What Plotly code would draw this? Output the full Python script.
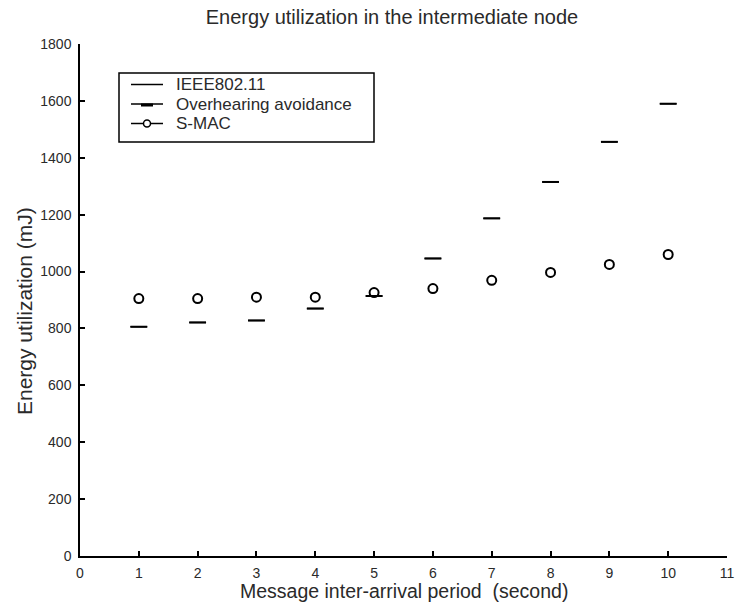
import plotly.graph_objects as go

x_vals = [1, 2, 3, 4, 5, 6, 7, 8, 9, 10]
ieee = [806, 821, 828, 870, 914, 1046, 1187, 1315, 1456, 1590]
overhearing = [806, 821, 828, 870, 914, 1046, 1187, 1315, 1456, 1590]
smac = [905, 905, 910, 910, 926, 940, 969, 997, 1025, 1060]

legend_names = ["IEEE802.11", "Overhearing avoidance", "S-MAC"]

x_ticks = list(range(0, 12))
y_ticks = list(range(0, 2000, 200))

font = "Liberation Sans, Arial, sans-serif"
txt = "#2a2a2a"

W, H = 741, 602
L, R, T, B = 80, 14, 44, 46
PW, PH = W - L - R, H - T - B


def px(x):
    # page pixel -> plot-area paper fraction
    return (x - L) / PW


def py(y):
    return 1 - (y - T) / PH


fig = go.Figure()
fig.add_trace(go.Scatter(x=x_vals, y=ieee, mode="markers", showlegend=False, name=legend_names[0],
                         marker=dict(symbol="line-ew", size=12, line=dict(color="black", width=1.5))))
fig.add_trace(go.Scatter(x=x_vals, y=overhearing, mode="markers", showlegend=False, name=legend_names[1],
                         marker=dict(symbol="line-ew", size=12, line=dict(color="black", width=2))))
fig.add_trace(go.Scatter(x=x_vals, y=smac, mode="markers", showlegend=False, name=legend_names[2],
                         marker=dict(symbol="circle-open", size=9, color="black", line=dict(color="black", width=2))))

# custom legend (box, samples, labels)
shapes = [dict(type="rect", xref="paper", yref="paper", x0=px(119), x1=px(374), y0=py(142), y1=py(73),
               line=dict(color="black", width=1.5), fillcolor="white", layer="above")]
rows = [84.5, 104, 123.5]
annotations = []
for name, ry in zip(legend_names, rows):
    shapes.append(dict(type="line", xref="paper", yref="paper", x0=px(131), x1=px(163), y0=py(ry), y1=py(ry),
                       line=dict(color="black", width=1.5), layer="above"))
    annotations.append(dict(text=name, xref="paper", yref="paper", x=px(175), y=py(ry),
                            xanchor="left", yanchor="middle", showarrow=False, borderpad=0,
                            font=dict(size=17, color=txt)))
shapes.append(dict(type="line", xref="paper", yref="paper", x0=px(141), x1=px(153),
                   y0=py(rows[1] + 1), y1=py(rows[1] + 1),
                   line=dict(color="black", width=3), layer="above"))
shapes.append(dict(type="circle", xref="paper", yref="paper", x0=px(143.5), x1=px(150.5),
                   y0=py(rows[2] + 3.5), y1=py(rows[2] - 3.5),
                   line=dict(color="black", width=1.5), fillcolor="white", layer="above"))

annotations.append(dict(text="Energy utilization (mJ)", xref="paper", yref="paper", x=px(24), y=py(311),
                        xanchor="center", yanchor="middle", textangle=-90, showarrow=False, borderpad=0,
                        font=dict(size=21, color=txt)))
annotations.append(dict(text="Message inter-arrival period  (second)", xref="paper", yref="paper",
                        x=px(404), y=py(590.5), xanchor="center", yanchor="middle", showarrow=False,
                        borderpad=0, font=dict(size=19.5, color=txt)))

fig.update_layout(
    width=W, height=H,
    margin=dict(l=L, r=R, t=T, b=B, autoexpand=False),
    paper_bgcolor="white", plot_bgcolor="white",
    font=dict(family=font, size=14, color=txt),
    showlegend=False,
    title=dict(text="Energy utilization in the intermediate node", xref="paper", x=px(392), xanchor="center",
               yref="container", y=1 - 17 / H, yanchor="middle", font=dict(size=20, color=txt)),
    shapes=shapes,
    annotations=annotations,
    xaxis=dict(range=[0, 11], tickvals=x_ticks, ticktext=[str(v) for v in x_ticks],
               showgrid=False, zeroline=False, showline=True, linecolor="black", linewidth=1.5,
               ticks="inside", ticklen=5, tickcolor="black", tickwidth=1.5, automargin=False,
               tickfont=dict(size=14), ticklabelstandoff=3),
    yaxis=dict(range=[0, 1800], tickvals=y_ticks, ticktext=[str(v) for v in y_ticks],
               showgrid=False, zeroline=False, showline=True, linecolor="black", linewidth=1.5,
               ticks="inside", ticklen=5, tickcolor="black", tickwidth=1.5, automargin=False,
               tickfont=dict(size=14), ticklabelstandoff=4),
)

fig.write_html("out.html")
